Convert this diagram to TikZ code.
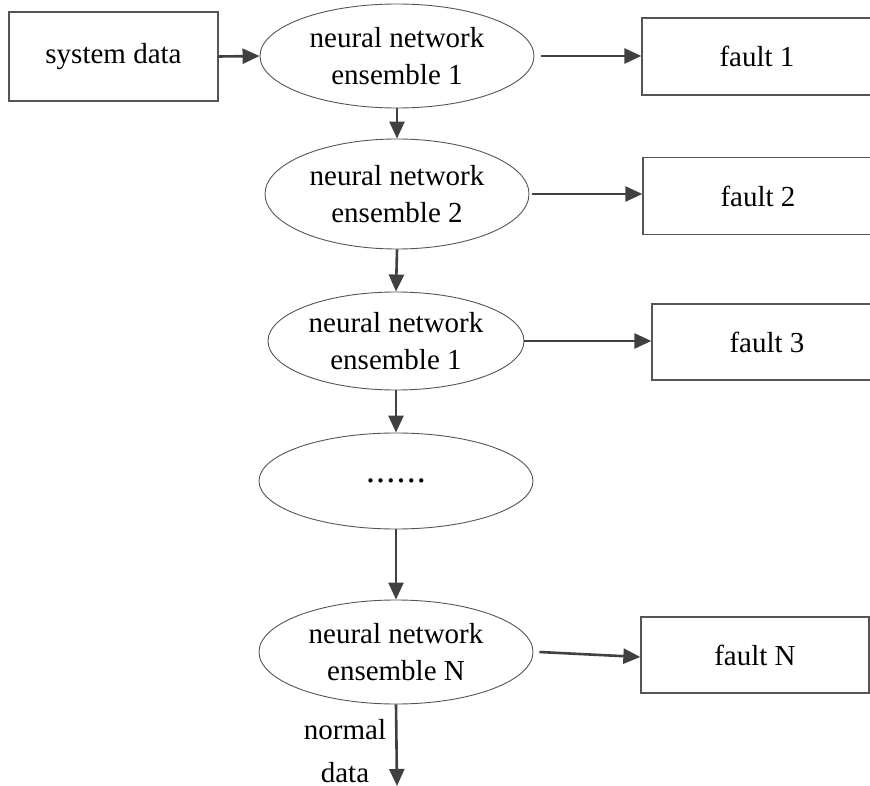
\documentclass[tikz,border=0pt]{standalone}
\usepackage{fontspec}
\setmainfont{Liberation Serif}
\newfontfamily\timesf{Liberation Serif}
\usetikzlibrary{arrows.meta,shapes.geometric}
\definecolor{linegray}{HTML}{404040}
\definecolor{edgegray}{HTML}{555555}
\begin{document}
\begin{tikzpicture}[x=1pt,y=-1pt,
  every node/.style={font=\timesf\fontsize{29}{37}\selectfont, text=black},
  rbox/.style={draw=edgegray, line width=1.3pt, inner sep=0pt, minimum height=77pt, minimum width=230pt},
  nnell/.style={ellipse, draw=edgegray, line width=0.9pt, inner sep=0pt, align=center},
  arr/.style={draw=linegray, line width=2.6pt, -{Triangle[length=17pt,width=15pt]}}]
\useasboundingbox (0,0) rectangle (870,786);
\clip (0,0) rectangle (870,786);

\node[rbox, minimum width=209pt, minimum height=89pt] (sys) at (113.5,56.5) {system data};
\node[nnell, minimum width=274pt, minimum height=104pt] (e1) at (397,56) {neural network\\ensemble 1};
\node[rbox] (f1) at (757,56.5) {fault 1};

\node[nnell, minimum width=264pt, minimum height=110pt] (e2) at (397,194) {neural network\\ensemble 2};
\node[rbox] (f2) at (758,196) {fault 2};

\node[nnell, minimum width=256pt, minimum height=98pt] (e3) at (396,341) {neural network\\ensemble 1};
\node[rbox, minimum height=76pt] (f3) at (767,342) {fault 3};

\node[nnell, minimum width=274pt, minimum height=96pt, font=\timesf\fontsize{36}{40}\selectfont] (e4) at (396,481) {.\kern1.2pt.\kern1.2pt.\kern1.2pt.\kern1.2pt.\kern1.2pt.};

\node[nnell, minimum width=274pt, minimum height=104pt] (e5) at (396,652) {neural network\\ensemble N};
\node[rbox, minimum width=228pt, minimum height=76pt] (fN) at (755,655) {fault N};

\node[align=center, inner sep=0pt, anchor=south, font=\timesf\fontsize{29}{43}\selectfont] (nd) at (345,783) {normal\\data};
\coordinate (end) at (397,786);

\draw[arr] (sys.east) -- (e1.west);
\draw[arr] ([xshift=7pt]e1.east) -- (e1.east -| f1.west);
\draw[arr] (e1.south) -- (e2.north);
\draw[arr] ([xshift=3pt]e2.east) -- (e2.east -| f2.west);
\draw[arr] (e2.south) -- (e3.north);
\draw[arr] (e3.east) -- (e3.east -| f3.west);
\draw[arr] (e3.south) -- (e4.north);
\draw[arr] (e4.south) -- (e5.north);
\draw[arr] ([xshift=6pt]e5.east) -- ([yshift=-2pt]fN.west);
\draw[arr] (e5.south) -- (end);
\end{tikzpicture}
\end{document}
